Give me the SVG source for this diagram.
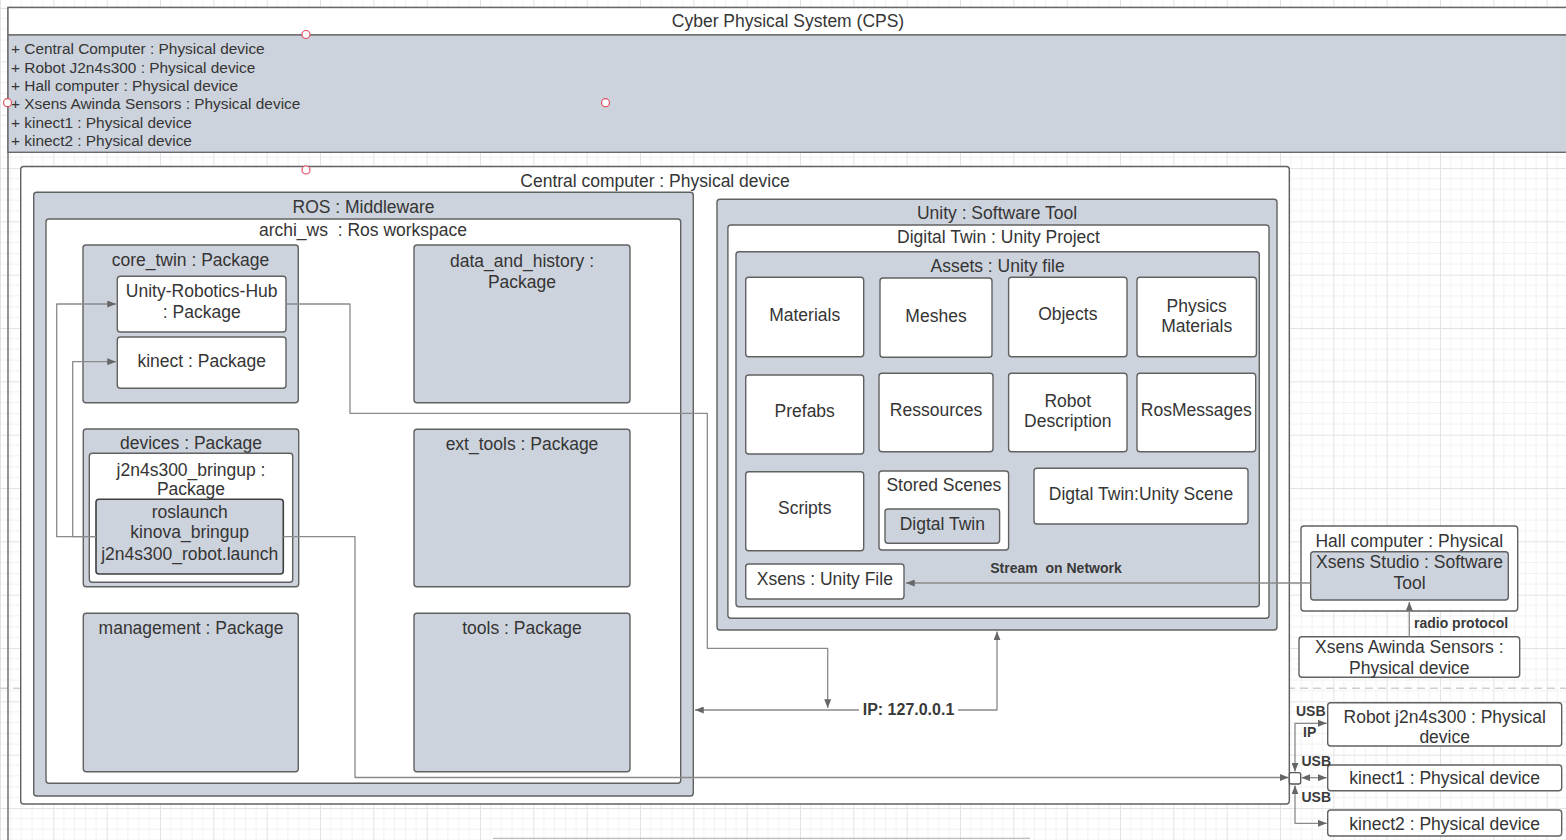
<svg xmlns="http://www.w3.org/2000/svg" width="1566" height="840" viewBox="0 0 1566 840">
<defs>
<pattern id="grid" width="53.333" height="53.333" patternUnits="userSpaceOnUse" x="0" y="8">
<path d="M10.667 0V53.333M21.333 0V53.333M32 0V53.333M42.667 0V53.333M0 10.667H53.333M0 21.333H53.333M0 32H53.333M0 42.667H53.333" stroke="#f1f1f1" stroke-width="1" fill="none"/>
<path d="M0.5 0V53.333M0 0.5H53.333" stroke="#e3e3e3" stroke-width="1" fill="none"/>
</pattern>
<marker id="a" viewBox="0 0 10 8" refX="10" refY="4" markerWidth="9" markerHeight="7" orient="auto-start-reverse" markerUnits="userSpaceOnUse">
<path d="M0,0L10,4L0,8z" fill="#666"/>
</marker>
<style>
.g{fill:#cdd3dc;stroke:#616161;stroke-width:1.4}
.w{fill:#fff;stroke:#616161;stroke-width:1.4}
.d{fill:#cdd3dc;stroke:#3f3f3f;stroke-width:1.6}
text{font-family:"Liberation Sans",Arial,sans-serif;fill:#353535}
.t{font-size:17.5px;text-anchor:middle}
.l{font-size:15.4px}
.b{font-size:14px;font-weight:bold;fill:#3a3a3a}
.c{fill:none;stroke:#8a8a8a;stroke-width:1.3;stroke-linejoin:round}
.h{fill:#fff;stroke:#e25260;stroke-width:1.2}
</style>
</defs>
<rect width="1566" height="840" fill="#fff"/>
<rect width="1566" height="840" fill="url(#grid)"/>
<line x1="0" y1="688.3" x2="1566" y2="688.3" stroke="#cfcfcf" stroke-width="1.5" stroke-dasharray="8 5"/>
<line x1="493" y1="838.3" x2="1030" y2="838.3" stroke="#bdbdbd" stroke-width="1.2"/>

<g id="cps">
<rect x="8" y="7.5" width="1580" height="850" fill="none" stroke="#6a6a6a" stroke-width="1.4"/>
<rect x="8" y="7.5" width="1580" height="27.5" fill="#fff" stroke="#6a6a6a" stroke-width="1.4"/>
<rect x="8" y="35" width="1580" height="117.3" fill="#cdd3dc" stroke="#6a6a6a" stroke-width="1.4"/>
<text class="t" x="788" y="27">Cyber Physical System (CPS)</text>
<text class="l" x="11" y="54.3">+ Central Computer : Physical device</text>
<text class="l" x="11" y="72.6">+ Robot J2n4s300 : Physical device</text>
<text class="l" x="11" y="90.9">+ Hall computer : Physical device</text>
<text class="l" x="11" y="109.2">+ Xsens Awinda Sensors : Physical device</text>
<text class="l" x="11" y="127.5">+ kinect1 : Physical device</text>
<text class="l" x="11" y="145.8">+ kinect2 : Physical device</text>
</g>

<g id="central-computer">
<rect class="w" x="20.7" y="166.5" width="1268.6" height="637.5" rx="3"/>
<text class="t" x="655" y="187">Central computer : Physical device</text>
</g>

<g id="ros">
<rect class="g" x="33.7" y="192.3" width="659.6" height="603.7" rx="3"/>
<text class="t" x="363.5" y="213">ROS : Middleware</text>
</g>
<g id="archi-ws">
<rect class="w" x="46" y="219" width="634.7" height="564.3" rx="3"/>
<text class="t" x="363" y="236" xml:space="preserve">archi_ws  : Ros workspace</text>
</g>
<g id="core-twin">
<rect class="g" x="83" y="245" width="215.3" height="157.7" rx="3"/>
<text class="t" x="190.5" y="266">core_twin : Package</text>
</g>
<g id="unity-robotics-hub">
<rect class="w" x="117.3" y="276.3" width="168.7" height="55.7" rx="3"/>
<text class="t" x="201.7" y="297.3">Unity-Robotics-Hub</text>
<text class="t" x="201.7" y="318.3">: Package</text>
</g>
<g id="kinect-pkg">
<rect class="w" x="117.3" y="337" width="168.7" height="51.3" rx="3"/>
<text class="t" x="201.7" y="366.7">kinect : Package</text>
</g>
<g id="data-and-history">
<rect class="g" x="414" y="245" width="216" height="157.7" rx="3"/>
<text class="t" x="522" y="267">data_and_history :</text>
<text class="t" x="522" y="288">Package</text>
</g>
<g id="devices">
<rect class="g" x="83.3" y="429" width="215.4" height="157.7" rx="3"/>
<text class="t" x="191" y="449.3">devices : Package</text>
</g>
<g id="j2n4s300-bringup">
<rect class="w" x="89.3" y="453.3" width="203.4" height="129" rx="3"/>
<text class="t" x="191" y="476">j2n4s300_bringup :</text>
<text class="t" x="191" y="495.3">Package</text>
</g>
<g id="roslaunch">
<rect class="d" x="96" y="499.3" width="187.3" height="74.7" rx="3"/>
<text class="t" x="189.7" y="517.7">roslaunch</text>
<text class="t" x="189.7" y="538.3">kinova_bringup</text>
<text class="t" x="189.7" y="560">j2n4s300_robot.launch</text>
</g>
<g id="ext-tools">
<rect class="g" x="414" y="429.3" width="216" height="157.4" rx="3"/>
<text class="t" x="522" y="450">ext_tools : Package</text>
</g>
<g id="management">
<rect class="g" x="83.3" y="613.3" width="215" height="158.4" rx="3"/>
<text class="t" x="191" y="634">management : Package</text>
</g>
<g id="tools">
<rect class="g" x="414" y="613.3" width="216" height="158.4" rx="3"/>
<text class="t" x="522" y="634">tools : Package</text>
</g>

<g id="unity">
<rect class="g" x="717" y="199.3" width="560" height="430.7" rx="3"/>
<text class="t" x="997" y="218.5">Unity : Software Tool</text>
</g>
<g id="digital-twin-project">
<rect class="w" x="727.9" y="225" width="541.1" height="393.3" rx="3"/>
<text class="t" x="998.5" y="243.3">Digital Twin : Unity Project</text>
</g>
<g id="assets">
<rect class="g" x="736" y="251.7" width="523.3" height="355" rx="3"/>
<text class="t" x="997.6" y="271.7">Assets : Unity file</text>
</g>
<g id="materials">
<rect class="w" x="745.7" y="277.3" width="118" height="79.4" rx="3"/>
<text class="t" x="804.7" y="320.7">Materials</text>
</g>
<g id="meshes">
<rect class="w" x="880" y="278" width="112" height="79.3" rx="3"/>
<text class="t" x="936" y="322">Meshes</text>
</g>
<g id="objects">
<rect class="w" x="1008.6" y="277.3" width="118.4" height="79.4" rx="3"/>
<text class="t" x="1067.8" y="320">Objects</text>
</g>
<g id="physics-materials">
<rect class="w" x="1137" y="277.3" width="119.4" height="79.4" rx="3"/>
<text class="t" x="1196.7" y="311.7">Physics</text>
<text class="t" x="1196.7" y="331.7">Materials</text>
</g>
<g id="prefabs">
<rect class="w" x="745.7" y="375" width="118" height="79" rx="3"/>
<text class="t" x="804.7" y="417.3">Prefabs</text>
</g>
<g id="ressources">
<rect class="w" x="879" y="373.3" width="114" height="78.4" rx="3"/>
<text class="t" x="936" y="416">Ressources</text>
</g>
<g id="robot-description">
<rect class="w" x="1008.6" y="373.3" width="118.4" height="78.4" rx="3"/>
<text class="t" x="1067.8" y="406.7">Robot</text>
<text class="t" x="1067.8" y="426.7">Description</text>
</g>
<g id="rosmessages">
<rect class="w" x="1137" y="373.3" width="118.7" height="78.4" rx="3"/>
<text class="t" x="1196.3" y="416">RosMessages</text>
</g>
<g id="scripts">
<rect class="w" x="745.7" y="471.7" width="118" height="79" rx="3"/>
<text class="t" x="804.7" y="514">Scripts</text>
</g>
<g id="stored-scenes">
<rect class="w" x="879" y="471" width="129.6" height="79" rx="3"/>
<text class="t" x="943.8" y="490.7">Stored Scenes</text>
</g>
<g id="digtal-twin">
<rect class="g" x="885" y="509" width="114.6" height="34.3" rx="3"/>
<text class="t" x="942.3" y="530">Digtal Twin</text>
</g>
<g id="digtal-twin-scene">
<rect class="w" x="1034" y="468.3" width="214" height="55.7" rx="3"/>
<text class="t" x="1141" y="500">Digtal Twin:Unity Scene</text>
</g>
<g id="xsens-file">
<rect class="w" x="745.7" y="564" width="158.3" height="35" rx="3"/>
<text class="t" x="824.8" y="584.5">Xsens : Unity File</text>
</g>

<g id="hall-computer">
<rect class="w" x="1301" y="526" width="216.7" height="85" rx="3"/>
<text class="t" x="1409.3" y="547.3">Hall computer : Physical</text>
</g>
<g id="xsens-studio">
<rect class="g" x="1310.7" y="551.7" width="197.6" height="48.3" rx="3"/>
<text class="t" x="1409.5" y="568.3">Xsens Studio : Software</text>
<text class="t" x="1409.5" y="589.3">Tool</text>
</g>
<g id="xsens-awinda">
<rect class="w" x="1299" y="636.7" width="220.7" height="40.6" rx="3"/>
<text class="t" x="1409.3" y="653.3">Xsens Awinda Sensors :</text>
<text class="t" x="1409.3" y="674">Physical device</text>
</g>
<g id="robot">
<rect class="w" x="1327.7" y="702.7" width="234" height="43.3" rx="3"/>
<text class="t" x="1444.7" y="723.3">Robot j2n4s300 : Physical</text>
<text class="t" x="1444.7" y="743.3">device</text>
</g>
<g id="kinect1">
<rect class="w" x="1327.7" y="765" width="234" height="25.7" rx="3"/>
<text class="t" x="1444.7" y="784.3">kinect1 : Physical device</text>
</g>
<g id="kinect2">
<rect class="w" x="1327.7" y="810" width="234" height="26" rx="3"/>
<text class="t" x="1444.7" y="830">kinect2 : Physical device</text>
</g>
<g id="hub">
<rect x="1289.3" y="772.7" width="11.4" height="11.3" rx="2" fill="#fff" stroke="#555" stroke-width="1.3"/>
</g>

<g id="connectors">
<path class="c" d="M96,536.7H56.7V304H116" marker-end="url(#a)"/>
<path class="c" d="M96,536.7H72.7V361.7H116" marker-end="url(#a)"/>
<path class="c" d="M286,304H350V413.3H707.3V648.3H827.7V708" marker-end="url(#a)"/>
<path class="c" d="M997,631.5V710H695" marker-start="url(#a)" marker-end="url(#a)"/>
<path class="c" d="M283.3,536.7H355V777.5H1288.5" marker-end="url(#a)"/>
<path class="c" d="M1310.7,583H906" marker-end="url(#a)"/>
<path class="c" d="M1409.3,636.7V602" marker-end="url(#a)"/>
<path class="c" d="M1295,771.5V723.3H1326.7" marker-start="url(#a)" marker-end="url(#a)"/>
<path class="c" d="M1301.5,777.7H1326.7" marker-start="url(#a)" marker-end="url(#a)"/>
<path class="c" d="M1295,785.5V823.3H1326.7" marker-start="url(#a)" marker-end="url(#a)"/>
<rect x="859" y="700" width="99" height="19" fill="#fff"/>
<text class="b" x="908.5" y="714.5" text-anchor="middle" style="font-size:16px">IP: 127.0.0.1</text>
<text class="b" x="1056" y="573.3" text-anchor="middle" xml:space="preserve">Stream  on Network</text>
<text class="b" x="1414" y="628.3">radio protocol</text>
<text class="b" x="1296" y="716">USB</text>
<text class="b" x="1303" y="737.3">IP</text>
<text class="b" x="1301.5" y="766">USB</text>
<text class="b" x="1301.5" y="801.7">USB</text>
</g>

<g id="handles">
<circle class="h" cx="306" cy="34.5" r="4"/>
<circle class="h" cx="7.5" cy="102.7" r="4"/>
<circle class="h" cx="605.5" cy="102.7" r="4"/>
<circle class="h" cx="306" cy="170" r="4"/>
</g>
</svg>
